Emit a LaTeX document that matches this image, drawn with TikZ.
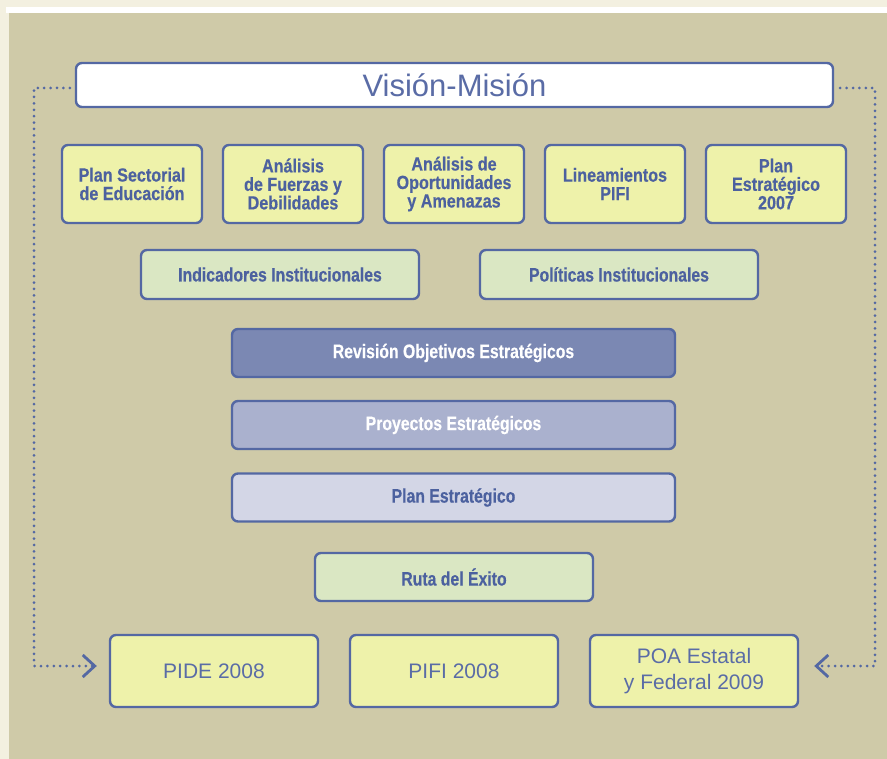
\documentclass[tikz,border=0pt]{standalone}
\usepackage{fontspec}
\setmainfont{Liberation Sans}
\newfontfamily\condfont[FakeStretch=0.85, FakeBold=0.4]{Liberation Sans}
\newfontfamily\condfontb[FakeStretch=0.81, FakeBold=0.4]{Liberation Sans}
\usetikzlibrary{arrows.meta}
\definecolor{crema}{HTML}{F3F0E0}
\definecolor{fondo}{HTML}{CFCAA8}
\definecolor{borde}{HTML}{5468A3}
\definecolor{texto}{HTML}{4C619F}
\definecolor{textofino}{HTML}{5A6CA6}
\definecolor{amarillo}{HTML}{EEF2AA}
\definecolor{verde}{HTML}{DAE7C3}
\definecolor{azuluno}{HTML}{7B88B3}
\definecolor{azuldos}{HTML}{AAB1CE}
\definecolor{azultres}{HTML}{D3D6E6}
\begin{document}
\begin{tikzpicture}[x=1pt, y=-1pt, line join=round, line cap=round,
	caja/.style={draw=borde, line width=2.4pt, rounded corners=6pt, inner sep=0pt, align=center, text=texto},
	negrita/.style={font=\condfont\bfseries\fontsize{19}{18.5}\selectfont},
	negritab/.style={font=\condfontb\bfseries\fontsize{19.5}{20}\selectfont},
	fina/.style={font=\fontsize{21}{26}\selectfont, text=textofino},
	punteado/.style={draw=borde, line width=3pt, dash pattern=on 0pt off 6.4pt, line cap=round},
	flecha/.style={-{Straight Barb[length=12pt, width=22pt, line width=2.8pt]}}]
	%Fondo.
	\fill[crema] (0,0) rectangle (887,759);
	\fill[white] (6,7) rectangle (887,13);
	\fill[fondo] (9,13) rectangle (887,759);
	%Visión-Misión.
	\node[caja, fill=white, minimum width=757, minimum height=44, font=\fontsize{31}{31}\selectfont, text=textofino] (vm) at (454.5,85) {Visión-Misión};
	%Primera fila.
	\def\ya{184}
	\node[caja, negrita, fill=amarillo, minimum width=140, minimum height=78] (pse) at (132,\ya) {Plan Sectorial\\de Educación};
	\node[caja, negrita, fill=amarillo, minimum width=140, minimum height=78] (afd) at (293,\ya) {Análisis\\de Fuerzas y\\Debilidades};
	\node[caja, negrita, fill=amarillo, minimum width=140, minimum height=78] (aoa) at (454,\ya) {Análisis de\\Oportunidades\\y Amenazas};
	\node[caja, negrita, fill=amarillo, minimum width=140, minimum height=78] (lp) at (615,\ya) {Lineamientos\\PIFI};
	\node[caja, negrita, fill=amarillo, minimum width=140, minimum height=78] (pe) at (776,\ya) {Plan\\Estratégico\\2007};
	%Segunda fila.
	\node[caja, negritab, fill=verde, minimum width=278, minimum height=49] (ii) at (280,274.5) {Indicadores Institucionales};
	\node[caja, negritab, fill=verde, minimum width=278, minimum height=49] (pi) at (619,274.5) {Políticas Institucionales};
	%Bloque central.
	\node[caja, negritab, fill=azuluno, text=white, minimum width=443, minimum height=48] (roe) at (453.5,353) {Revisión Objetivos Estratégicos};
	\node[caja, negritab, fill=azuldos, text=white, minimum width=443, minimum height=48] (pye) at (453.5,425) {Proyectos Estratégicos};
	\node[caja, negritab, fill=azultres, minimum width=443, minimum height=48] (ples) at (453.5,497.5) {Plan Estratégico};
	\node[caja, negritab, fill=verde, minimum width=278, minimum height=48] (re) at (454,577) {Ruta del Éxito};
	%Fila inferior.
	\def\yb{671}
	\node[caja, fina, fill=amarillo, minimum width=208, minimum height=72] (pide) at (214,\yb) {PIDE 2008};
	\node[caja, fina, fill=amarillo, minimum width=208, minimum height=72] (pifi) at (454,\yb) {PIFI 2008};
	\node[caja, fina, fill=amarillo, minimum width=208, minimum height=72] (poa) at (694,\yb) {POA Estatal\\y Federal 2009};
	%Líneas punteadas.
	\coordinate (izqa) at (34,88);
	\coordinate (izqb) at (34,666);
	\coordinate (dera) at (875,88);
	\coordinate (derb) at (875,666);
	\draw[punteado, flecha] ([xshift=-5pt, yshift=-3pt]vm.west) -- (izqa) -- (izqb) -- ([xshift=-12pt, yshift=5pt]pide.west);
	\draw[punteado, flecha] ([xshift=6pt, yshift=-3pt]vm.east) -- (dera) -- (derb) -- ([xshift=15pt, yshift=5pt]poa.east);
\end{tikzpicture}
\end{document}
